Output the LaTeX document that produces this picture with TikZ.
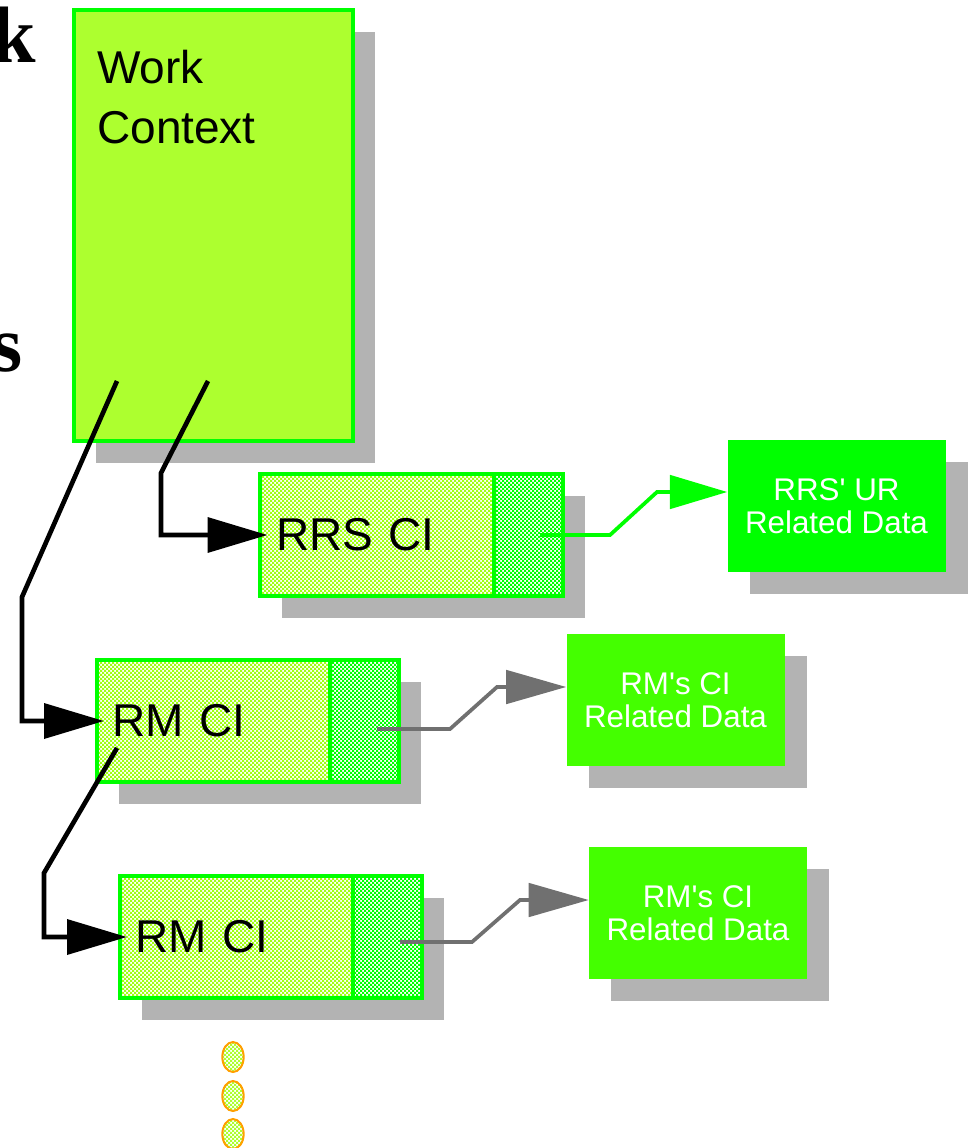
\documentclass[tikz,border=0pt]{standalone}
\usepackage{fontspec}
\setmainfont{Liberation Sans}
\newfontfamily\headfont{Liberation Serif}
\usetikzlibrary{arrows.meta,patterns,shadows,shapes.geometric}

\definecolor{ctxfill}{RGB}{173,255,47}
\definecolor{cilight}{RGB}{160,255,20}
\definecolor{edgegreen}{RGB}{0,255,0}
\definecolor{datagreen}{RGB}{68,255,0}
\definecolor{shadowgray}{RGB}{179,179,179}
\definecolor{linkgray}{RGB}{112,112,112}
\definecolor{dotorange}{RGB}{255,160,0}

% finer checker than the library one
\pgfdeclarepatternformonly{finechecker}{\pgfqpoint{-.1pt}{-.1pt}}{\pgfqpoint{3.1pt}{3.1pt}}{\pgfqpoint{3pt}{3pt}}%
{
  \pgfpathrectangle{\pgfqpoint{0pt}{0pt}}{\pgfqpoint{1.55pt}{1.55pt}}%
  \pgfpathrectangle{\pgfqpoint{1.5pt}{1.5pt}}{\pgfqpoint{1.55pt}{1.55pt}}%
  \pgfusepath{fill}
}

\tikzset{
  shadowed/.style={drop shadow={shadow xshift=16.5pt,shadow yshift=-16.5pt,opacity=1,fill=shadowgray}},
  ctxbox/.style={shadowed,draw=edgegreen,fill=ctxfill,line width=3pt,minimum width=209pt,minimum height=323pt,inner sep=0pt},
  cibox/.style={shadowed,preaction={fill=white},draw=edgegreen,line width=3pt,pattern=finechecker,pattern color=cilight,
    minimum width=227pt,minimum height=91pt,text width=203pt,inner xsep=12pt,inner ysep=0pt,align=left,font=\fontsize{34.5}{40}\selectfont},
  citail/.style={preaction={fill=white},draw=edgegreen,line width=3pt,pattern=finechecker,pattern color=edgegreen,
    minimum width=52pt,minimum height=91pt,inner sep=0pt},
  databox/.style={shadowed,fill=datagreen,minimum width=163.5pt,minimum height=99pt,inner sep=0pt,text=white,align=center,
    font=\fontsize{23.5}{24.75}\selectfont},
  moredot/.style={ellipse,preaction={fill=white},draw=dotorange,line width=1.5pt,pattern=finechecker,pattern color=ctxfill,
    minimum width=16pt,minimum height=22.5pt,inner sep=0pt},
  flow/.style={line width=3.5pt,-{Triangle[length=45pt,width=26pt]},shorten >=-7pt},
  greenlink/.style={draw=edgegreen,line width=2.8pt,-{Triangle[length=43pt,width=25pt]}},
  graylink/.style={draw=linkgray,line width=2.8pt,-{Triangle[length=45pt,width=25pt]}}
}

\begin{document}
\begin{tikzpicture}[x=0.75pt,y=0.75pt,yscale=-1,xscale=1]
\useasboundingbox (0,0) rectangle (972,1148);

% cut-off heading letters
\node[anchor=base east,inner sep=0pt,font=\headfont\bfseries\fontsize{60}{60}\selectfont] (headk) at (36,63) {k};
\node[anchor=base east,inner sep=0pt,font=\headfont\bfseries\fontsize{60}{60}\selectfont] (heads) at (23,371) {s};

% work context
\node[ctxbox] (ctx) at (213.5,225.5) {};
\node[anchor=north west,inner sep=0pt,align=left,font=\fontsize{34.5}{45}\selectfont] (ctxlabel) at (97,50) {Work\\Context};

% CI boxes
\node[cibox] (rrs) at (411.5,535) {RRS CI};
\node[citail,anchor=east] (rrstail) at (rrs.east) {};
\node[cibox] (rm1) at (248,721) {RM CI};
\node[citail,anchor=east] (rm1tail) at (rm1.east) {};
\node[cibox] (rm2) at (271,937) {RM CI};
\node[citail,anchor=east] (rm2tail) at (rm2.east) {};

% related data
\node[databox,fill=edgegreen] (rrsdata) at (836.5,506) {RRS\textquotesingle{} UR\\Related Data};
\node[databox] (rmdata1) at (675.5,700) {RM\textquotesingle s CI\\Related Data};
\node[databox] (rmdata2) at (698,913) {RM\textquotesingle s CI\\Related Data};

% more to come
\node[moredot] (dot1) at (233,1057) {};
\node[moredot] (dot2) at (233,1096) {};
\node[moredot] (dot3) at (233,1134) {};

% link ends
\coordinate (ctxlinkA) at (117,381);
\coordinate (ctxlinkB) at (208,381);
\coordinate (rm1link) at (117,748);
\coordinate (rrsout) at (540,535);
\coordinate (rm1out) at (377,729);
\coordinate (rm2out) at (400,942);

\draw[flow] (ctxlinkB) -- (161,473) |- (rrs.west);
\draw[flow] (ctxlinkA) -- (22,597) |- (rm1.west);
\draw[flow] (rm1link) -- (44,873) |- (rm2.west);
\draw[greenlink] (rrsout) -- (610,535) -- (657,492) -- (rrsdata.west |- 0,492);
\draw[graylink] (rm1out) -- (450,729) -- (497,687) -- (rmdata1.west |- 0,687);
\draw[graylink] (rm2out) -- (472,942) -- (520,900) -- (rmdata2.west |- 0,900);
\end{tikzpicture}
\end{document}
